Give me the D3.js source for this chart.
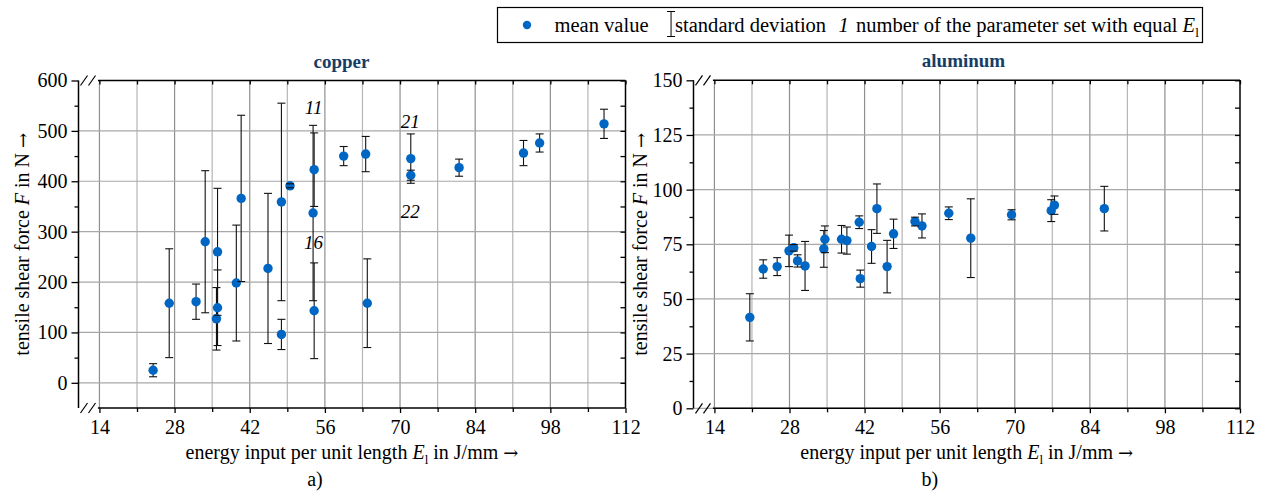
<!DOCTYPE html>
<html>
<head>
<meta charset="utf-8">
<script src="https://cdn.jsdelivr.net/npm/d3@7"></script>
<style>
body { margin: 0; background: #fff; }
svg text { font-family: "Liberation Serif", "Times New Roman", serif; fill: #000; }
.arrow { font-family: "DejaVu Serif", serif; }
</style>
</head>
<body>
<svg id="chart" width="1265" height="493"></svg>
<script>
// copper: energy input per unit length (J/mm), mean tensile shear force (N), std dev (N)
var cuE  = [24, 27, 32, 33.7, 36, 36, 35.8, 39.5, 40.4, 45.4, 47.9, 47.9, 49.5, 54, 53.8, 54, 59.5, 63.6, 63.9, 72, 72, 81, 93, 96, 108];
var cuF  = [25, 158, 161, 280, 260, 149, 127, 198, 366, 227, 359, 96, 391, 423, 337, 143, 450, 454, 158, 445, 412, 427, 456, 476, 514];
var cuSD = [13, 108, 35, 141, 126, 75, 62, 115, 165, 149, 196, 30, 4, 73, 174, 95, 19, 35, 88, 49, 10, 17, 25, 18, 29];

// numbers of parameter sets with equal E_l (copper)
var cuLabelText = ["11", "16", "21", "22"];
var cuLabelE    = [53.9, 53.9, 71.9, 71.9];
var cuLabelF    = [546, 278, 519, 340];

// aluminum
var alE  = [20.6, 23.1, 25.7, 27.9, 28.8, 29.5, 30.9, 34.4, 34.6, 37.7, 38.7, 41, 41.2, 43.3, 44.3, 46.2, 47.4, 51.4, 52.7, 57.7, 61.8, 69.4, 76.8, 77.4, 86.7];
var alF  = [41.6, 63.7, 64.8, 72, 73.4, 67.4, 65.1, 72.9, 77.3, 77.3, 76.7, 85.1, 59.3, 74, 91.3, 64.8, 79.8, 85.4, 83.4, 89.2, 77.8, 88.5, 90.4, 92.9, 91.3];
var alSD = [10.8, 4.2, 4.1, 7.2, 1.5, 2.8, 11.2, 8.4, 6.1, 6.3, 6.2, 2.9, 3.9, 7.7, 11.3, 12, 6.7, 2, 5.5, 2.9, 18, 2.3, 5, 4.2, 10.2];

// axis ticks
var xMajor = [14, 28, 42, 56, 70, 84, 98, 112];
var xMinor = [21, 35, 49, 63, 77, 91, 105];
var cuYMajor = [0, 100, 200, 300, 400, 500, 600];
var cuYMinor = [50, 150, 250, 350, 450, 550];
var alYMajor = [0, 25, 50, 75, 100, 125, 150];
var alYMinor = [12.5, 37.5, 62.5, 87.5, 112.5, 137.5];

var dotColor = "#0066c4";
var titleColor = "#163d66";
var serif = "'Liberation Serif', 'Times New Roman', serif";
var svg = d3.select("#chart");

function cleanAxis(sel, labels) {
  sel.attr("font-family", serif).attr("font-size", 20);
  sel.select(".domain").remove();
  sel.selectAll("line").attr("stroke-width", 1.3);
  if (labels) sel.selectAll("text").attr("font-family", serif).style("font-size", "20px");
}

function panel(o) {
  var w = o.right - o.left, h = o.bottom - o.top;
  var g = svg.append("g").attr("transform", "translate(" + o.left + "," + o.top + ")");

  var x = d3.scaleLinear().domain([10.1, 112]).range([0, w]);
  var y = d3.scaleLinear().domain(o.yDomain).range([h, 0]);

  // grid
  var vgrid = xMajor.concat(xMinor).filter(function(v) { return v < 112; });
  g.selectAll(".vg").data(vgrid).enter().append("line")
    .attr("x1", d => x(d)).attr("x2", d => x(d))
    .attr("y1", 0).attr("y2", h)
    .attr("stroke", d => xMajor.indexOf(d) >= 0 ? "#8f8f8f" : "#b5b5b5")
    .attr("stroke-width", 1.2);
  g.selectAll(".hg").data(o.yMajor.filter(v => v < o.yDomain[1])).enter().append("line")
    .attr("x1", 0).attr("x2", w)
    .attr("y1", d => y(d)).attr("y2", d => y(d))
    .attr("stroke", "#a8a8a8").attr("stroke-width", 1.2);

  // left axis with labels
  cleanAxis(g.append("g").call(d3.axisLeft(y).tickValues(o.yMajor).tickSize(7).tickPadding(4)), true);
  cleanAxis(g.append("g").call(d3.axisLeft(y).tickValues(o.yMinor).tickSize(4).tickFormat("")));

  // right ticks (inward)
  cleanAxis(g.append("g").attr("transform", "translate(" + w + ",0)")
    .call(d3.axisLeft(y).tickValues(o.yMajor.concat(o.yMinor)).tickSize(5).tickFormat("")));

  // bottom axis
  cleanAxis(g.append("g").attr("transform", "translate(0," + h + ")")
    .call(d3.axisBottom(x).tickValues(xMajor).tickSize(5).tickPadding(7)), true);
  cleanAxis(g.append("g").attr("transform", "translate(0," + h + ")")
    .call(d3.axisBottom(x).tickValues(xMinor).tickSize(4).tickFormat("")));

  // top ticks (inward)
  cleanAxis(g.append("g")
    .call(d3.axisBottom(x).tickValues(xMajor.concat(xMinor)).tickSize(4).tickFormat("")));

  // frame with axis breaks
  var bx = x(14) - 1.5;
  var frame = g.append("g").attr("stroke", "#000").attr("stroke-width", 1.5).attr("fill", "none");
  frame.append("line").attr("x1", 0).attr("x2", 0).attr("y1", 0).attr("y2", h);
  frame.append("line").attr("x1", w).attr("x2", w).attr("y1", 0).attr("y2", h);
  frame.append("line").attr("x1", bx).attr("x2", w).attr("y1", 0).attr("y2", 0);
  frame.append("line").attr("x1", bx).attr("x2", w).attr("y1", h).attr("y2", h);
  [0, h].forEach(function(yy) {
    [2, 10].forEach(function(dx) {
      frame.append("line").attr("x1", dx).attr("y1", yy + 5).attr("x2", dx + 7).attr("y2", yy - 5)
        .attr("stroke-width", 1.2);
    });
  });

  // error bars: stems, then dots, then caps
  var idx = d3.range(o.E.length);
  g.selectAll(".stem").data(idx).enter().append("line")
    .attr("x1", i => x(o.E[i])).attr("x2", i => x(o.E[i]))
    .attr("y1", i => y(o.F[i] + o.SD[i])).attr("y2", i => y(o.F[i] - o.SD[i]))
    .attr("stroke", "#111").attr("stroke-width", 1.1);
  g.selectAll(".dot").data(idx).enter().append("circle")
    .attr("cx", i => x(o.E[i])).attr("cy", i => y(o.F[i]))
    .attr("r", 4.7).attr("fill", dotColor);
  idx.forEach(function(i) {
    [o.F[i] + o.SD[i], o.F[i] - o.SD[i]].forEach(function(v) {
      g.append("line")
        .attr("x1", x(o.E[i]) - 4).attr("x2", x(o.E[i]) + 4)
        .attr("y1", y(v)).attr("y2", y(v))
        .attr("stroke", "#111").attr("stroke-width", 1.1);
    });
  });

  // set numbers
  if (o.labelText) {
    g.selectAll(".lbl").data(o.labelText).enter().append("text")
      .attr("x", (d, i) => x(o.labelE[i])).attr("y", (d, i) => y(o.labelF[i]))
      .attr("text-anchor", "middle").attr("dy", "0.35em")
      .style("font-size", "19px").style("font-style", "italic")
      .text(d => d);
  }

  // title
  g.append("text").attr("x", o.titleX).attr("y", -13)
    .attr("text-anchor", "middle")
    .style("font-size", "19px").style("font-weight", "bold").style("fill", titleColor)
    .text(o.title);

  // y label
  var yl = g.append("text")
    .attr("transform", "translate(" + (o.yLabelX) + "," + (h / 2) + ") rotate(-90)")
    .attr("text-anchor", "middle").style("font-size", "20px");
  yl.append("tspan").text("tensile shear force ");
  yl.append("tspan").style("font-style", "italic").text("F");
  yl.append("tspan").text(" in N ");
  yl.append("tspan").attr("class", "arrow").style("font-size", "18px").text("\u2192");

  // x label
  var xl = g.append("text").attr("x", w / 2).attr("y", h + 51)
    .attr("text-anchor", "middle").style("font-size", "20px");
  xl.append("tspan").text("energy input per unit length ");
  xl.append("tspan").style("font-style", "italic").text("E");
  xl.append("tspan").attr("dy", 5).style("font-size", "13px").text("l");
  xl.append("tspan").attr("dy", -5).text(" in J/mm ");
  xl.append("tspan").attr("class", "arrow").style("font-size", "18px").text("\u2192");

  g.append("text").attr("x", w / 2 - 37).attr("y", h + 78)
    .attr("text-anchor", "middle").style("font-size", "20px").text(o.tag);
}

panel({left: 78.5, right: 625.5, top: 80.5, bottom: 408, yDomain: [-50, 600],
  yMajor: cuYMajor, yMinor: cuYMinor, E: cuE, F: cuF, SD: cuSD,
  labelText: cuLabelText, labelE: cuLabelE, labelF: cuLabelF,
  title: "copper", titleX: 263, yLabelX: -50, tag: "a)"});

panel({left: 693.5, right: 1240, top: 80.3, bottom: 408.3, yDomain: [0, 150],
  yMajor: alYMajor, yMinor: alYMinor, E: alE, F: alF, SD: alSD,
  title: "aluminum", titleX: 270, yLabelX: -47, tag: "b)"});

// legend: items laid out one after another, font size fitted to the box
var lg = svg.append("g").attr("transform", "translate(497.5,7.5)");
lg.append("rect").attr("width", 705).attr("height", 35)
  .attr("fill", "#fff").attr("stroke", "#000").attr("stroke-width", 1.2);
lg.append("circle").attr("cx", 29.5).attr("cy", 17.5).attr("r", 4.2).attr("fill", dotColor);

var items = lg.append("g");
function drawLegend(fs) {
  items.selectAll("*").remove();
  var cx = 57;
  var t1 = items.append("text").attr("x", cx).attr("y", 24).style("font-size", fs + "px").text("mean value");
  cx += t1.node().getComputedTextLength() + fs * 0.9;
  items.append("line").attr("x1", cx + 4).attr("x2", cx + 4).attr("y1", 4).attr("y2", 29).attr("stroke", "#000");
  items.append("line").attr("x1", cx).attr("x2", cx + 8).attr("y1", 4).attr("y2", 4).attr("stroke", "#000");
  items.append("line").attr("x1", cx).attr("x2", cx + 8).attr("y1", 29).attr("y2", 29).attr("stroke", "#000");
  cx += 8;
  var t2 = items.append("text").attr("x", cx).attr("y", 24).style("font-size", fs + "px").text("standard deviation");
  cx += t2.node().getComputedTextLength() + fs * 0.6;
  var t3 = items.append("text").attr("x", cx).attr("y", 24).style("font-size", fs + "px").style("font-style", "italic").text("1");
  cx += t3.node().getComputedTextLength() + fs * 0.35;
  var t4 = items.append("text").attr("x", cx).attr("y", 24).style("font-size", fs + "px");
  t4.append("tspan").text("number of the parameter set with equal ");
  t4.append("tspan").style("font-style", "italic").text("E");
  t4.append("tspan").attr("dy", 5).style("font-size", (fs * 0.65) + "px").text("l");
  return cx + t4.node().getComputedTextLength();
}
var end = drawLegend(18);
drawLegend(18 * (703 - 57) / (end - 57));
</script>
</body>
</html>
